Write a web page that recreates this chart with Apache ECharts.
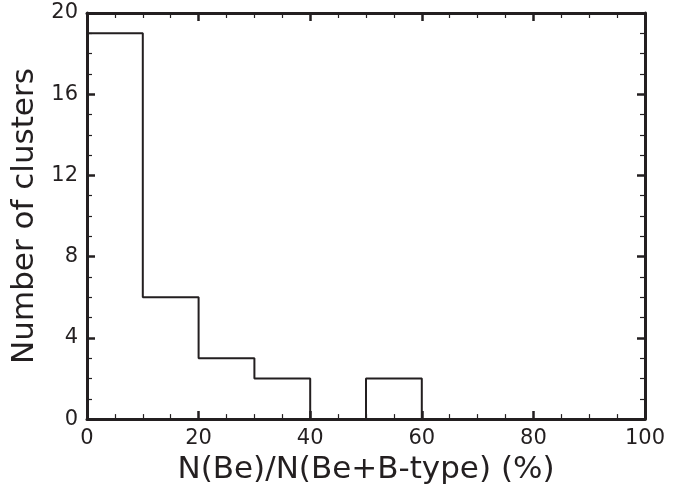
<!DOCTYPE html>
<html>
<head>
<meta charset="utf-8">
<script src="https://cdn.jsdelivr.net/npm/echarts@6/dist/echarts.min.js"></script>
<style>
  html, body { margin: 0; padding: 0; background: #fff; }
  #chart { width: 685px; height: 490px; }
</style>
</head>
<body>
<div id="chart"></div>
<script>
// bin edges (left side) and counts of the histogram
const binStarts = [0, 10, 20, 30, 40, 50, 60]
const counts = [19, 6, 3, 2, 0, 2, 0]

const xName = 'N(Be)/N(Be+B-type) (%)'
const yName = 'Number of clusters'

const ink = '#231f20'
const font = 'DejaVu Sans'

const stepData = binStarts.map((x, i) => [x, counts[i]])

function frameAxis(extra) {
  return Object.assign({
    type: 'value',
    axisLine: { show: true, onZero: false, lineStyle: { color: ink, width: 3 } },
    axisTick: { show: true, inside: true, length: 8, lineStyle: { color: ink, width: 2.5 } },
    minorTick: { show: true, splitNumber: 4, length: 5, lineStyle: { color: ink, width: 1.2 } },
    splitLine: { show: false },
    minorSplitLine: { show: false }
  }, extra)
}

const chart = echarts.init(document.getElementById('chart'))

chart.setOption({
  animation: false,
  grid: { left: 87, right: 40, top: 13, bottom: 68 },
  xAxis: [
    frameAxis({
      min: 0, max: 100, interval: 20,
      name: xName,
      nameLocation: 'middle',
      nameGap: 31,
      nameTextStyle: { color: ink, fontFamily: font, fontSize: 31 },
      axisLabel: { color: ink, fontFamily: font, fontSize: 21, margin: 9 }
    }),
    frameAxis({
      position: 'top',
      min: 0, max: 100, interval: 20,
      axisLabel: { show: false }
    })
  ],
  yAxis: [
    frameAxis({
      min: 0, max: 20, interval: 4,
      name: yName,
      nameLocation: 'middle',
      nameGap: 41,
      nameTextStyle: { color: ink, fontFamily: font, fontSize: 31 },
      axisLabel: { color: ink, fontFamily: font, fontSize: 21, margin: 9 }
    }),
    frameAxis({
      position: 'right',
      min: 0, max: 20, interval: 4,
      axisLabel: { show: false }
    })
  ],
  series: [{
    type: 'line',
    step: 'end',
    data: stepData,
    symbol: 'none',
    lineStyle: { color: ink, width: 2 },
    z: 1
  }]
})
</script>
</body>
</html>
